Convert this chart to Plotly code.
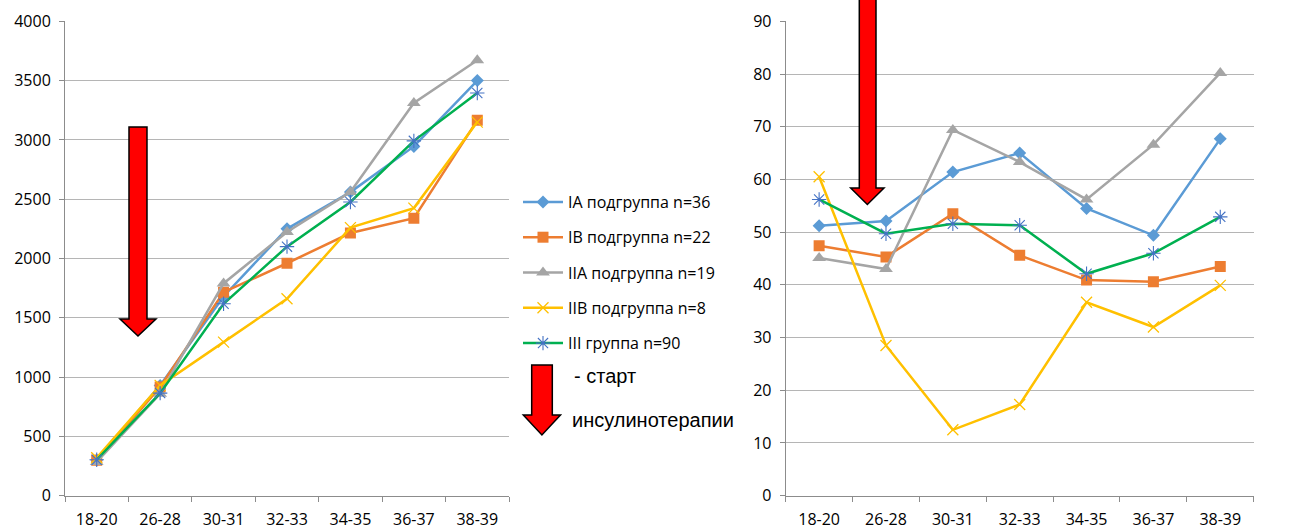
import plotly.graph_objects as go

W, H = 1295, 531

categories = ["18-20", "26-28", "30-31", "32-33", "34-35", "36-37", "38-39"]
series_names = ["IA подгруппа n=36", "IB подгруппа n=22", "IIA подгруппа n=19",
                "IIB подгруппа n=8", "III группа n=90"]

weight_IA = [300, 930, 1680, 2250, 2560, 2945, 3500]
weight_IB = [298, 916, 1716, 1960, 2215, 2340, 3165]
weight_IIA = [284, 860, 1790, 2223, 2560, 3311, 3672]
weight_IIB = [320, 930, 1295, 1660, 2260, 2425, 3150]
weight_III = [303, 865, 1618, 2100, 2477, 2992, 3395]

pct_IA = [51.2, 52.1, 61.4, 65.0, 54.5, 49.4, 67.7]
pct_IB = [47.4, 45.3, 53.5, 45.6, 40.9, 40.6, 43.5]
pct_IIA = [45.1, 43.0, 69.4, 63.3, 56.2, 66.6, 80.2]
pct_IIB = [60.5, 28.5, 12.5, 17.3, 36.7, 32.0, 39.9]
pct_III = [56.2, 49.7, 51.6, 51.3, 42.1, 46.0, 52.9]

styles = [
    dict(line="#5b9bd5", marker=dict(symbol="diamond", size=10, color="#5b9bd5")),
    dict(line="#ed7d31", marker=dict(symbol="square", size=11, color="#ed7d31")),
    dict(line="#a5a5a5", marker=dict(symbol="triangle-up", size=12, color="#a5a5a5")),
    dict(line="#ffc000", marker=dict(symbol="x-thin-open", size=11, color="#ffc000",
                                      line=dict(width=1.3, color="#ffc000"))),
    dict(line="#00b050", marker=dict(symbol="asterisk-open", size=12, color="#4472c4",
                                      line=dict(width=1.1, color="#4472c4"))),
]

left_data = [weight_IA, weight_IB, weight_IIA, weight_IIB, weight_III]
right_data = [pct_IA, pct_IB, pct_IIA, pct_IIB, pct_III]

fig = go.Figure()
for i, (name, st) in enumerate(zip(series_names, styles)):
    fig.add_trace(go.Scatter(x=categories, y=left_data[i], name=name, mode="lines+markers",
                             line=dict(color=st["line"], width=2.5), marker=st["marker"],
                             legendgroup=name, xaxis="x", yaxis="y"))
for i, (name, st) in enumerate(zip(series_names, styles)):
    fig.add_trace(go.Scatter(x=categories, y=right_data[i], name=name, mode="lines+markers",
                             line=dict(color=st["line"], width=2.5), marker=st["marker"],
                             legendgroup=name, showlegend=False, xaxis="x2", yaxis="y2"))


def px(x):
    return x / W


def py(y):
    return 1 - y / H


tickfont = dict(family="Open Sans", size=16, color="#000000")
axis_common = dict(showline=True, linecolor="#8c8c8c", linewidth=1, ticks="outside",
                   ticklen=5, tickcolor="#8c8c8c", tickfont=tickfont, automargin=False)
xcommon = dict(axis_common, type="category", tickson="boundaries", range=[-0.5, 6.5],
               showgrid=False, ticklabelstandoff=9)
ycommon = dict(axis_common, showgrid=True, gridcolor="#b5b5b5", gridwidth=1,
               zeroline=False, ticklabelstandoff=5)

fig.update_layout(
    width=W, height=H, margin=dict(l=0, r=0, t=0, b=0, autoexpand=False),
    paper_bgcolor="white", plot_bgcolor="white",
    xaxis=dict(xcommon, domain=[px(65), px(509)], anchor="y"),
    yaxis=dict(ycommon, domain=[py(495.7), py(21.3)], range=[0, 4000], dtick=500, anchor="x"),
    xaxis2=dict(xcommon, domain=[px(785.7), px(1253.7)], anchor="y2"),
    yaxis2=dict(ycommon, domain=[py(495.7), py(21.3)], range=[0, 90], dtick=10, anchor="x2"),
    showlegend=True,
    legend=dict(x=px(518), y=py(185), xanchor="left", yanchor="top",
                font=dict(family="Open Sans", size=16, color="#000000"),
                tracegroupgap=11.5, bgcolor="rgba(0,0,0,0)", itemwidth=40),
)


def arrow_path(x0, x1, ytop, yhead, hx0, hx1, ytip):
    xm = (hx0 + hx1) / 2
    pts = [(x0, ytop), (x1, ytop), (x1, yhead), (hx1, yhead), (xm, ytip),
           (hx0, yhead), (x0, yhead)]
    return "M " + " L ".join(f"{px(a):.5f},{py(b):.5f}" for a, b in pts) + " Z"


arrows = [
    (129, 147, 127, 319, 120, 156, 336),
    (859.3, 876, -5, 188, 850.7, 884, 204.5),
    (531.7, 552.3, 365, 415, 523.3, 560.5, 435),
]
for a in arrows:
    fig.add_shape(type="path", path=arrow_path(*a), xref="paper", yref="paper",
                  fillcolor="#ff0000", line=dict(color="#000000", width=1.5), layer="above")

fig.add_annotation(x=px(572), y=py(376), xref="paper", yref="paper", text="- старт",
                   showarrow=False, xanchor="left", yanchor="middle",
                   font=dict(family="Liberation Sans", size=20, color="#000000"))
fig.add_annotation(x=px(570), y=py(420), xref="paper", yref="paper", text="инсулинотерапии",
                   showarrow=False, xanchor="left", yanchor="middle",
                   font=dict(family="Liberation Sans", size=20, color="#000000"))

fig.write_html("out.html")
